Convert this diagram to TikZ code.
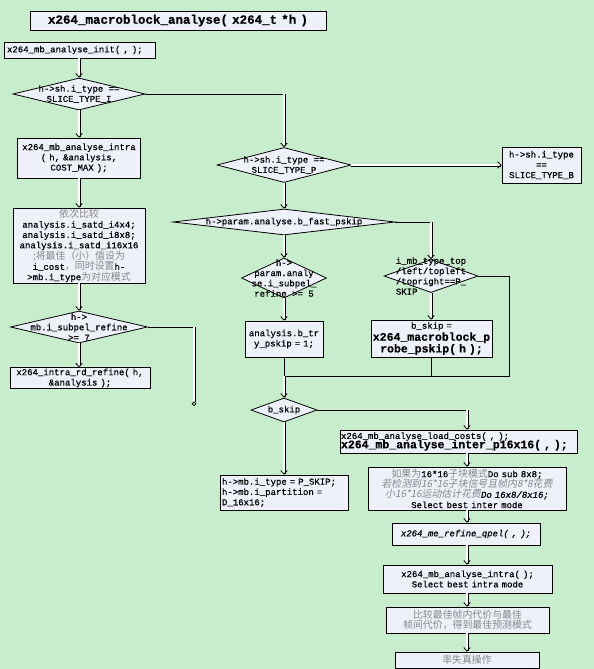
\documentclass[tikz,border=0pt]{standalone}
\usepackage{fontspec}
\setmonofont[FakeBold=0.6]{Liberation Mono}
\newfontfamily\cjkfont[Scale=1.1]{Noto Sans CJK SC}
\newfontfamily\cjkitfont[Scale=1.1,FakeSlant=0.2]{Noto Sans CJK SC}
\usetikzlibrary{shapes.geometric,arrows.meta}
\definecolor{bg}{RGB}{199,237,204}
\definecolor{boxfill}{RGB}{238,241,250}
\definecolor{greytxt}{RGB}{135,135,135}
\newcommand\cgr[1]{{\cjkfont\color{greytxt}#1}}
\newcommand\cgi[1]{{\cjkitfont\color{greytxt}#1}}
\lineskiplimit=-4pt
\begin{document}
\begin{tikzpicture}[x=1pt,y=-1pt,
  every node/.style={font=\ttfamily\fontsize{9}{10.3}\selectfont},
  box/.style={draw, line width=0.8pt, fill=boxfill, rectangle, inner sep=1pt, align=center},
  dia/.style={draw, line width=0.8pt, fill=boxfill, diamond, inner sep=0pt},
  dtext/.style={align=center, inner sep=0pt},
  dbl/.style={double=white, double distance=1.4pt, line width=0.8pt, -{Straight Barb[length=3.5pt,width=6.5pt]}},
  ln/.style={line width=0.9pt}]
\useasboundingbox (0,0) rectangle (594,669);
\fill[bg] (0,0) rectangle (594,669);

% title
\node[box, minimum width=296pt, minimum height=19pt, text width=294pt, font=\ttfamily\bfseries\fontsize{12.5}{14}\selectfont] (title) at (178,20.5) {x264\_macroblock\_analyse( x264\_t *h )};

% left column
\node[box, minimum width=151pt, minimum height=16pt, text width=145pt, align=left] (init) at (79.5,50) {x264\_mb\_analyse\_init( , );};
\node[dia, minimum width=132pt, minimum height=32pt] (d1) at (79,94) {};
\node[dtext] (t1) at (d1) {h->sh.i\_type ==\\SLICE\_TYPE\_I};
\node[box, minimum width=123pt, minimum height=40pt, text width=121pt] (intra1) at (79,158) {x264\_mb\_analyse\_intra\\( h, \&analysis,\\COST\_MAX );};
\node[box, minimum width=132pt, minimum height=75pt, text width=130pt, inner sep=0.5pt] (satd) at (79,245.5) {\cgr{依次比较}\\analysis.i\_satd\_i4x4;\\analysis.i\_satd\_i8x8;\\analysis.i\_satd\_i16x16\\\cgr{;将最佳（小）值设为}\\i\_cost\cgr{，同时设置}h-\\>mb.i\_type\cgr{为对应模式}};
\node[dia, minimum width=137pt, minimum height=32pt] (d3) at (79,327) {};
\node[dtext] (t3) at (d3) {h->\\mb.i\_subpel\_refine\\>= 7};
\node[box, minimum width=140pt, minimum height=20pt, text width=138pt] (rdref) at (80,378) {x264\_intra\_rd\_refine( h,\\\&analysis );};

% middle column
\node[dia, minimum width=134pt, minimum height=35pt] (d2) at (284,165) {};
\node[dtext] (t2) at (d2) {h->sh.i\_type ==\\SLICE\_TYPE\_P};
\node[box, minimum width=79pt, minimum height=36pt, text width=77pt] (bbox) at (541.5,165) {h->sh.i\_type\\==\\SLICE\_TYPE\_B};
\node[dia, minimum width=222pt, minimum height=26pt] (d4) at (284,222) {};
\node[dtext] (t4) at (d4) {h->param.analyse.b\_fast\_pskip};
\node[dia, minimum width=85pt, minimum height=40pt] (d5) at (284,278) {};
\node[dtext] (t5) at (d5) {h->\\param.analy\\se.i\_subpel\_\\refine >= 5};
\node[dia, minimum width=94pt, minimum height=33pt] (d6) at (431,276) {};
\node[dtext, align=left] (t6) at (d6) {i\_mb\_type\_top\\/left/topleft\\/topright==P\_\\SKIP};
\node[box, minimum width=78pt, minimum height=36pt, text width=76pt] (try) at (284,339) {analysis.b\_tr\\y\_pskip = 1;};
\node[box, minimum width=121pt, minimum height=37pt, text width=119pt] (probe) at (431.5,338.5) {b\_skip =\\{\bfseries\fontsize{11.5}{12}\selectfont x264\_macroblock\_p\\robe\_pskip( h );}};
\node[dia, minimum width=66pt, minimum height=24pt] (bskip) at (284,410) {};
\node[dtext] (tb) at (bskip) {b\_skip};
\node[box, minimum width=128pt, minimum height=35pt, text width=124pt, align=left] (psk) at (284,492.5) {h->mb.i\_type = P\_SKIP;\\h->mb.i\_partition =\\D\_16x16;};

% right column
\node[box, minimum width=237pt, minimum height=23pt, text width=235pt, align=left, inner sep=1pt] (load) at (458.5,441.5) {x264\_mb\_analyse\_load\_costs(  ,  );\\[-1pt]{\bfseries\fontsize{11.5}{12}\selectfont x264\_mb\_analyse\_inter\_p16x16( , );}};
\node[box, minimum width=198pt, minimum height=43pt, text width=196pt] (b16) at (467,488.5) {\cgr{如果为}16*16\cgr{子块模式}Do sub 8x8;\\\cgi{若检测到16*16子块信号且帧内8*8花费}\\\cgi{小16*16运动估计花费}{\itshape Do 16x8/8x16;}\\Select best inter mode};
\node[box, minimum width=148pt, minimum height=22pt, text width=146pt] (qpel) at (466,534) {{\itshape x264\_me\_refine\_qpel( , );}};
\node[box, minimum width=169pt, minimum height=28pt, text width=167pt] (intra2) at (467.5,579) {x264\_mb\_analyse\_intra( );\\Select best intra mode};
\node[box, minimum width=163pt, minimum height=26pt, text width=161pt] (cmp) at (467.5,620) {\cgr{比较最佳帧内代价与最佳}\\\cgr{帧间代价，得到最佳预测模式}};
\node[box, minimum width=144pt, minimum height=16pt, text width=142pt] (rd) at (467,660) {\cgr{率失真操作}};

% coordinates
\coordinate (c1) at (284,94);
\coordinate (c2) at (431,222);
\coordinate (c3) at (509,276);
\coordinate (c4) at (509,376);
\coordinate (j) at (284,376);
\coordinate (c5) at (467,410);
\coordinate (c6) at (194,327);
\coordinate (c7) at (194,406);

% left connectors
\draw[dbl] (init.south -| d1.north) -- (d1.north);
\draw[dbl] (d1.south) -- (intra1.north);
\draw[dbl] (intra1.south) -- (satd.north);
\draw[dbl] (satd.south) -- (d3.north);
\draw[dbl] (d3.south) -- (rdref.north -| d3.south);
\draw[ln] (d3.east) -- (c6);
\draw[double=white, double distance=1.4pt, line width=0.8pt, -{Circle[open,length=4.5pt]}] (c6) -- (c7);

% middle connectors
\draw[ln] (d1.east) -- (c1);
\draw[dbl] (c1) -- (d2.north);
\draw[dbl] (d2.east) -- (bbox.west);
\draw[dbl] (d2.south) -- (d4.north);
\draw[ln] (d4.east) -- (c2);
\draw[dbl] (c2) -- (d6.north);
\draw[dbl] (d4.south) -- (d5.north);
\draw[dbl] (d5.south) -- (try.north);
\draw[dbl] (d6.south) -- (probe.north -| d6.south);
\draw[ln] (d6.east) -- (c3) -- (c4) -- (j);
\draw[ln] (probe.south -| d6.south) -- (j -| d6.south);
\draw[ln] (try.south) -- (j);
\draw[dbl] (j) -- (bskip.north);
\draw[dbl] (bskip.south) -- (psk.north);
\draw[ln] (bskip.east) -- (c5);
\draw[dbl] (c5) -- (load.north -| c5);

% right connectors
\draw[dbl] (load.south -| b16.north) -- (b16.north);
\draw[dbl] (b16.south) -- (qpel.north -| b16.south);
\draw[dbl] (qpel.south -| b16.south) -- (intra2.north -| b16.south);
\draw[dbl] (intra2.south -| b16.south) -- (cmp.north -| b16.south);
\draw[dbl] (cmp.south -| b16.south) -- (rd.north -| b16.south);
\end{tikzpicture}
\end{document}
